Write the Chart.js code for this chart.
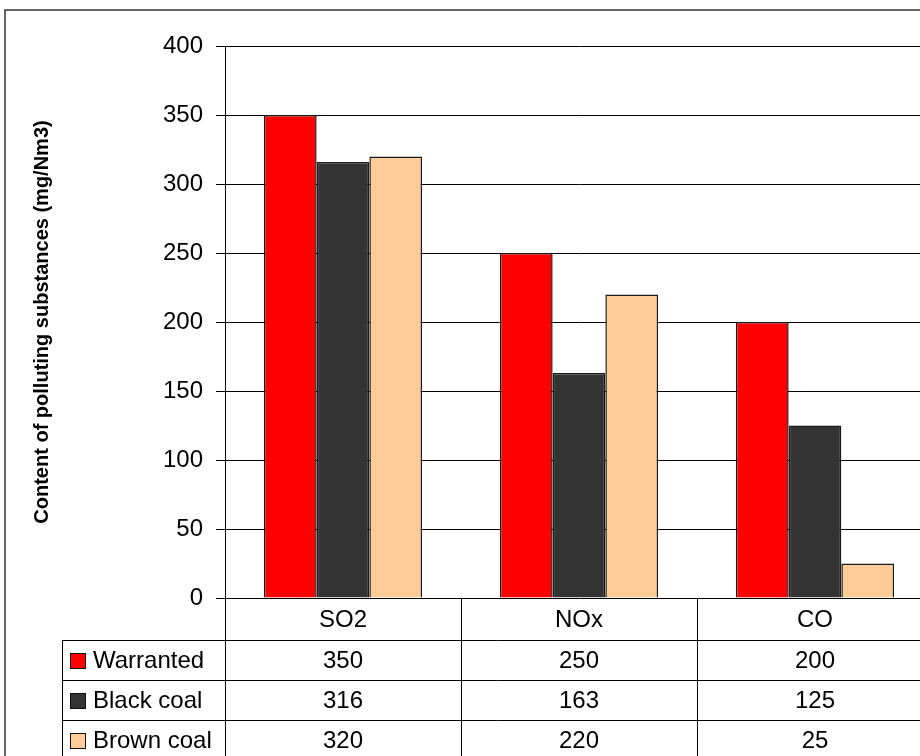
<!DOCTYPE html>
<html>
<head>
<meta charset="utf-8">
<script src="https://cdn.jsdelivr.net/npm/chart.js@4/dist/chart.umd.min.js"></script>
<style>
  html, body { margin: 0; padding: 0; overflow: hidden; background: #fff; }
  #wrap { position: absolute; left: 0; top: 0; width: 940px; height: 780px; }
</style>
</head>
<body>
<div id="wrap"><canvas id="c" width="940" height="780"></canvas></div>
<script>
// Emission data (mg/Nm3)
const categories = ['SO2', 'NOx', 'CO'];
const seriesNames = ['Warranted', 'Black coal', 'Brown coal'];
const warranted = [350, 250, 200];
const blackCoal = [316, 163, 125];
const brownCoal = [320, 220, 25];
const seriesColors = ['#ff0000', '#333333', '#ffcc99'];
const yMin = 0, yMax = 400, yStep = 50;
const yTitle = 'Content of polluting substances (mg/Nm3)';

const FONT = "'Liberation Sans', Arial, sans-serif";

// Outer frame and white background
const framePlugin = {
  id: 'frame',
  beforeDraw(chart) {
    const ctx = chart.ctx;
    ctx.save();
    ctx.fillStyle = '#fff';
    ctx.fillRect(0, 0, chart.width, chart.height);
    ctx.strokeStyle = '#333';
    ctx.lineWidth = 1.5;
    ctx.strokeRect(5, 10, chart.width + 20, chart.height + 20);
    ctx.restore();
  }
};

// Data table under the plot: category header row, then one row per series
const tablePlugin = {
  id: 'dataTable',
  afterDraw(chart) {
    const { ctx, chartArea: a, scales: { x } } = chart;
    const rowH = [42, 40, 40, 40];
    const ys = [a.bottom];
    rowH.forEach(h => ys.push(ys[ys.length - 1] + h));
    const tableLeft = 62;
    const colW = (a.right - a.left) / categories.length;
    const data = chart.data.datasets;

    ctx.save();
    ctx.strokeStyle = '#000';
    ctx.lineWidth = 1;

    // horizontal rules
    ctx.beginPath();
    for (let r = 1; r < ys.length; r++) {
      const y = Math.round(ys[r]) + 0.5;
      ctx.moveTo(tableLeft, y);
      ctx.lineTo(a.right, y);
    }
    // vertical rules: legend column edge, plot left and category boundaries
    ctx.moveTo(tableLeft + 0.5, ys[1]);
    ctx.lineTo(tableLeft + 0.5, ys[ys.length - 1]);
    for (let i = 0; i <= categories.length; i++) {
      const xx = Math.round(x.getPixelForValue(i) - colW / 2) + 0.5;
      ctx.moveTo(xx, ys[0]);
      ctx.lineTo(xx, ys[ys.length - 1]);
    }
    ctx.stroke();

    ctx.fillStyle = '#000';
    ctx.font = '24px ' + FONT;
    ctx.textAlign = 'center';
    ctx.textBaseline = 'middle';
    categories.forEach((c, i) => {
      ctx.fillText(c, x.getPixelForValue(i), (ys[0] + ys[1]) / 2 + 1);
    });
    data.forEach((ds, r) => {
      const yc = (ys[r + 1] + ys[r + 2]) / 2 + 1;
      ds.data.forEach((v, i) => {
        ctx.fillText(String(v), x.getPixelForValue(i), yc);
      });
      // legend key
      ctx.fillStyle = ds.backgroundColor;
      ctx.fillRect(70, Math.round(yc) - 8, 15, 15);
      ctx.strokeStyle = '#111';
      ctx.strokeRect(70.5, Math.round(yc) - 7.5, 15, 15);
      ctx.fillStyle = '#000';
      ctx.textAlign = 'left';
      ctx.fillText(ds.label, 93, yc);
      ctx.textAlign = 'center';
    });
    ctx.restore();
  }
};

const values = [warranted, blackCoal, brownCoal];

new Chart(document.getElementById('c'), {
  type: 'bar',
  data: {
    labels: categories,
    datasets: seriesNames.map((name, i) => ({
      label: name,
      data: values[i],
      backgroundColor: seriesColors[i],
      borderColor: '#1a1a1a',
      borderWidth: 1.5,
      categoryPercentage: 0.67,
      barPercentage: 1.0
    }))
  },
  options: {
    responsive: false,
    animation: false,
    devicePixelRatio: 1,
    layout: { padding: { left: 0, top: 46, right: 7, bottom: 182 } },
    plugins: { legend: { display: false }, tooltip: { enabled: false } },
    scales: {
      x: { display: false, offset: true },
      y: {
        min: yMin,
        max: yMax,
        ticks: {
          stepSize: yStep,
          padding: 13,
          color: '#000',
          font: { family: FONT, size: 24 }
        },
        grid: { color: '#000', lineWidth: 1, tickLength: 9, drawTicks: true },
        border: { color: '#000', width: 1 },
        title: {
          display: true,
          text: yTitle,
          color: '#000',
          font: { family: FONT, size: 20, weight: 'bold' },
          padding: { top: 30, bottom: 0 }
        },
        afterFit(scale) { scale.width = 225; }
      }
    }
  },
  plugins: [framePlugin, tablePlugin]
});
</script>
</body>
</html>
